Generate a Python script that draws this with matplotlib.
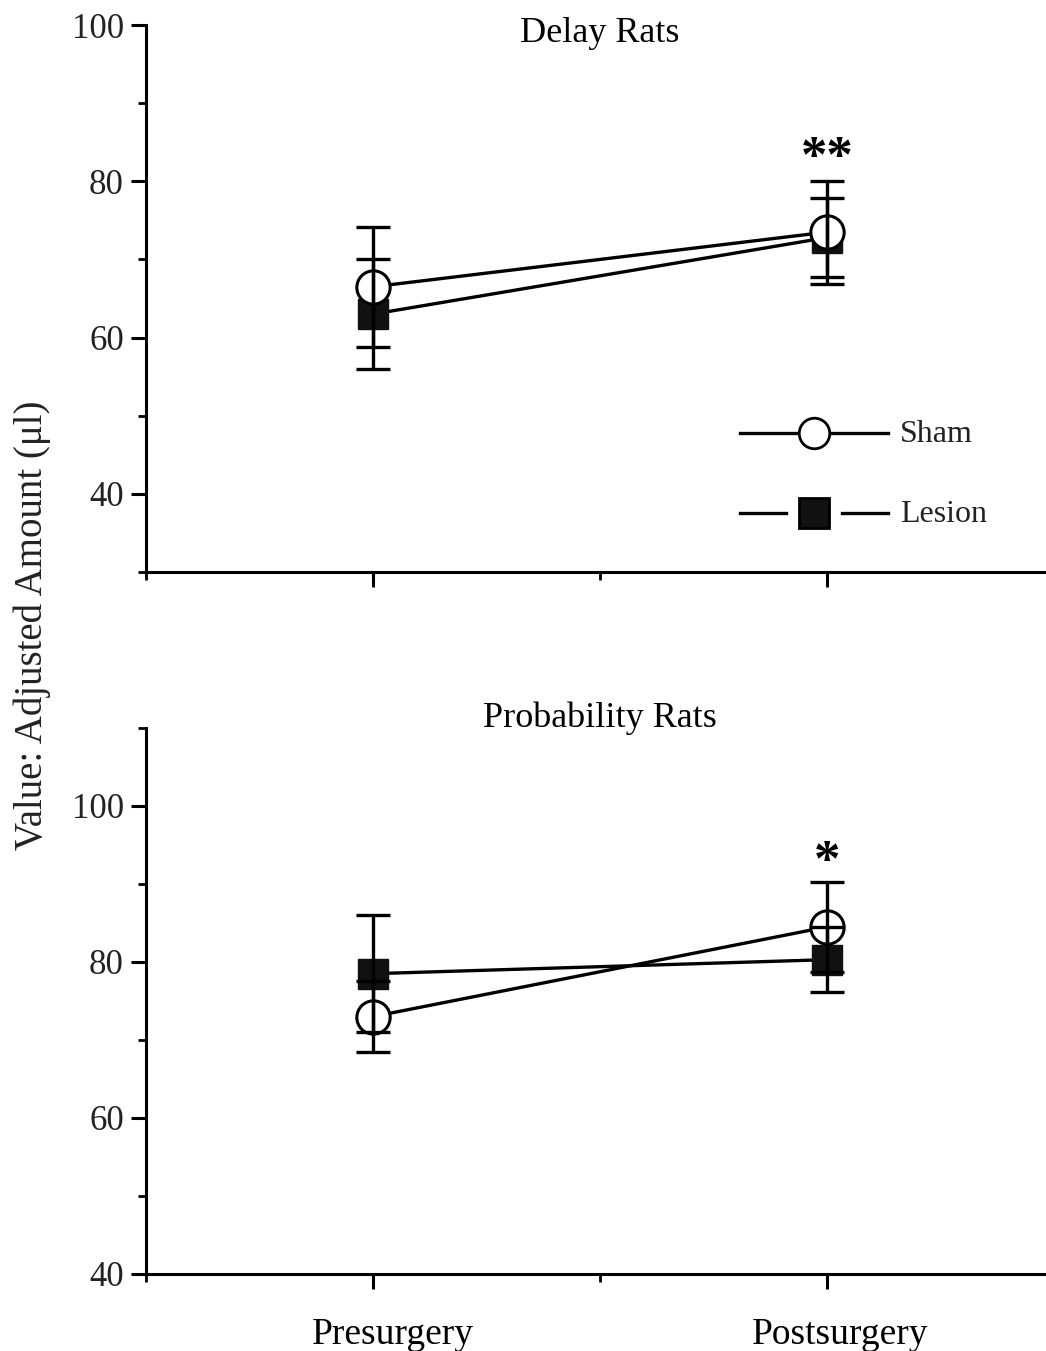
import matplotlib.pyplot as plt
import matplotlib.transforms as mtransforms
from matplotlib.ticker import MultipleLocator

plt.rcParams['font.family'] = ['Liberation Serif', 'DejaVu Serif']

# data
phases = ['Presurgery', 'Postsurgery']
xpos = [1, 2]

delay_sham = [66.5, 73.5]
delay_sham_err = [7.7, 6.6]
delay_lesion = [63.0, 72.8]
delay_lesion_err = [7.0, 5.0]

prob_sham = [73.0, 84.5]
prob_sham_err = [4.6, 5.8]
prob_lesion = [78.5, 80.3]
prob_lesion_err = [7.5, 4.2]

fig = plt.figure(figsize=(10.46, 13.51), dpi=100)
W, H = 1046, 1351
ax1 = fig.add_axes([146 / W, (H - 572) / H, 908 / W, 547 / H])
ax2 = fig.add_axes([146 / W, (H - 1274) / H, 908 / W, 546 / H])


def draw(ax, sham, sham_err, lesion, lesion_err):
    ax.plot(xpos, lesion, color='black', lw=2.4, zorder=2)
    ax.plot(xpos, sham, color='black', lw=2.4, zorder=2)
    ax.plot(xpos, lesion, ls='none', marker='s', ms=22, mfc='#111111', mec='#111111', zorder=3)
    ax.plot(xpos, sham, ls='none', marker='o', ms=24, mfc='white', mec='black', mew=2.2, zorder=4)
    ax.errorbar(xpos, sham, yerr=sham_err, fmt='none', ecolor='black', elinewidth=2.4,
                capsize=12, capthick=2.4, zorder=5)
    ax.errorbar(xpos, lesion, yerr=lesion_err, fmt='none', ecolor='black', elinewidth=2.4,
                capsize=12, capthick=2.4, zorder=5)
    ax.set_xlim(0.5, 2.5)
    ax.spines['top'].set_visible(False)
    ax.spines['right'].set_visible(False)
    ax.spines['left'].set_linewidth(2.2)
    ax.spines['bottom'].set_linewidth(2.2)
    ax.set_xticks(xpos)
    ax.xaxis.set_minor_locator(MultipleLocator(0.5))
    ax.yaxis.set_major_locator(MultipleLocator(20))
    ax.yaxis.set_minor_locator(MultipleLocator(10))
    ax.tick_params(which='major', direction='out', length=11, width=2.2, labelsize=25, pad=5)
    ax.tick_params(which='minor', direction='out', length=6, width=2.0)
    ax.tick_params(axis='y', which='both', labelcolor='#222222')


draw(ax1, delay_sham, delay_sham_err, delay_lesion, delay_lesion_err)
ax1.set_ylim(30, 100)
ax1.set_yticks([40, 60, 80, 100])
ax1.set_xticklabels([])
ax1.text(0.5, 0.985, 'Delay Rats', transform=ax1.transAxes, ha='center', va='center', fontsize=26)
ax1.text(2, 79.8, '**', ha='center', va='bottom', fontsize=38, fontweight='bold')

# legend built by hand: line - marker - line
lx0, lx1 = 740, 888
for yy, mk, fc, label, gap in [(433, 'o', 'white', 'Sham', 0), (513, 's', '#111111', 'Lesion', 28)]:
    fy = (H - yy) / H
    xm = (lx0 + lx1) / 2
    fig.add_artist(plt.Line2D([lx0 / W, (xm - gap) / W], [fy, fy], color='black', lw=2.4))
    fig.add_artist(plt.Line2D([(xm + gap) / W, lx1 / W], [fy, fy], color='black', lw=2.4))
    fig.add_artist(plt.Line2D([xm / W], [fy], marker=mk, ms=22, mfc=fc, mec='black', mew=2.0, ls='none'))
    fig.text(900 / W, fy - 2 / H, label, ha='left', va='center', fontsize=23, color='#222222')

draw(ax2, prob_sham, prob_sham_err, prob_lesion, prob_lesion_err)
ax2.set_ylim(40, 110)
ax2.set_yticks([40, 60, 80, 100])
ax2.set_xticklabels(phases, fontsize=27)
ax2.tick_params(axis='x', which='major', pad=20)
for lab, dx in zip(ax2.get_xticklabels(), [20, 13]):
    lab.set_transform(lab.get_transform() + mtransforms.ScaledTranslation(dx / 100, 0, fig.dpi_scale_trans))
ax2.text(0.5, 1.018, 'Probability Rats', transform=ax2.transAxes, ha='center', va='center', fontsize=26)
ax2.text(2, 89.6, '*', ha='center', va='bottom', fontsize=38, fontweight='bold')

fig.text(32 / W, (H - 625) / H, 'Value: Adjusted Amount (\u03bcl)', rotation=90,
         ha='center', va='center', fontsize=28, color='#222222')

plt.savefig('out.png', dpi=100)
